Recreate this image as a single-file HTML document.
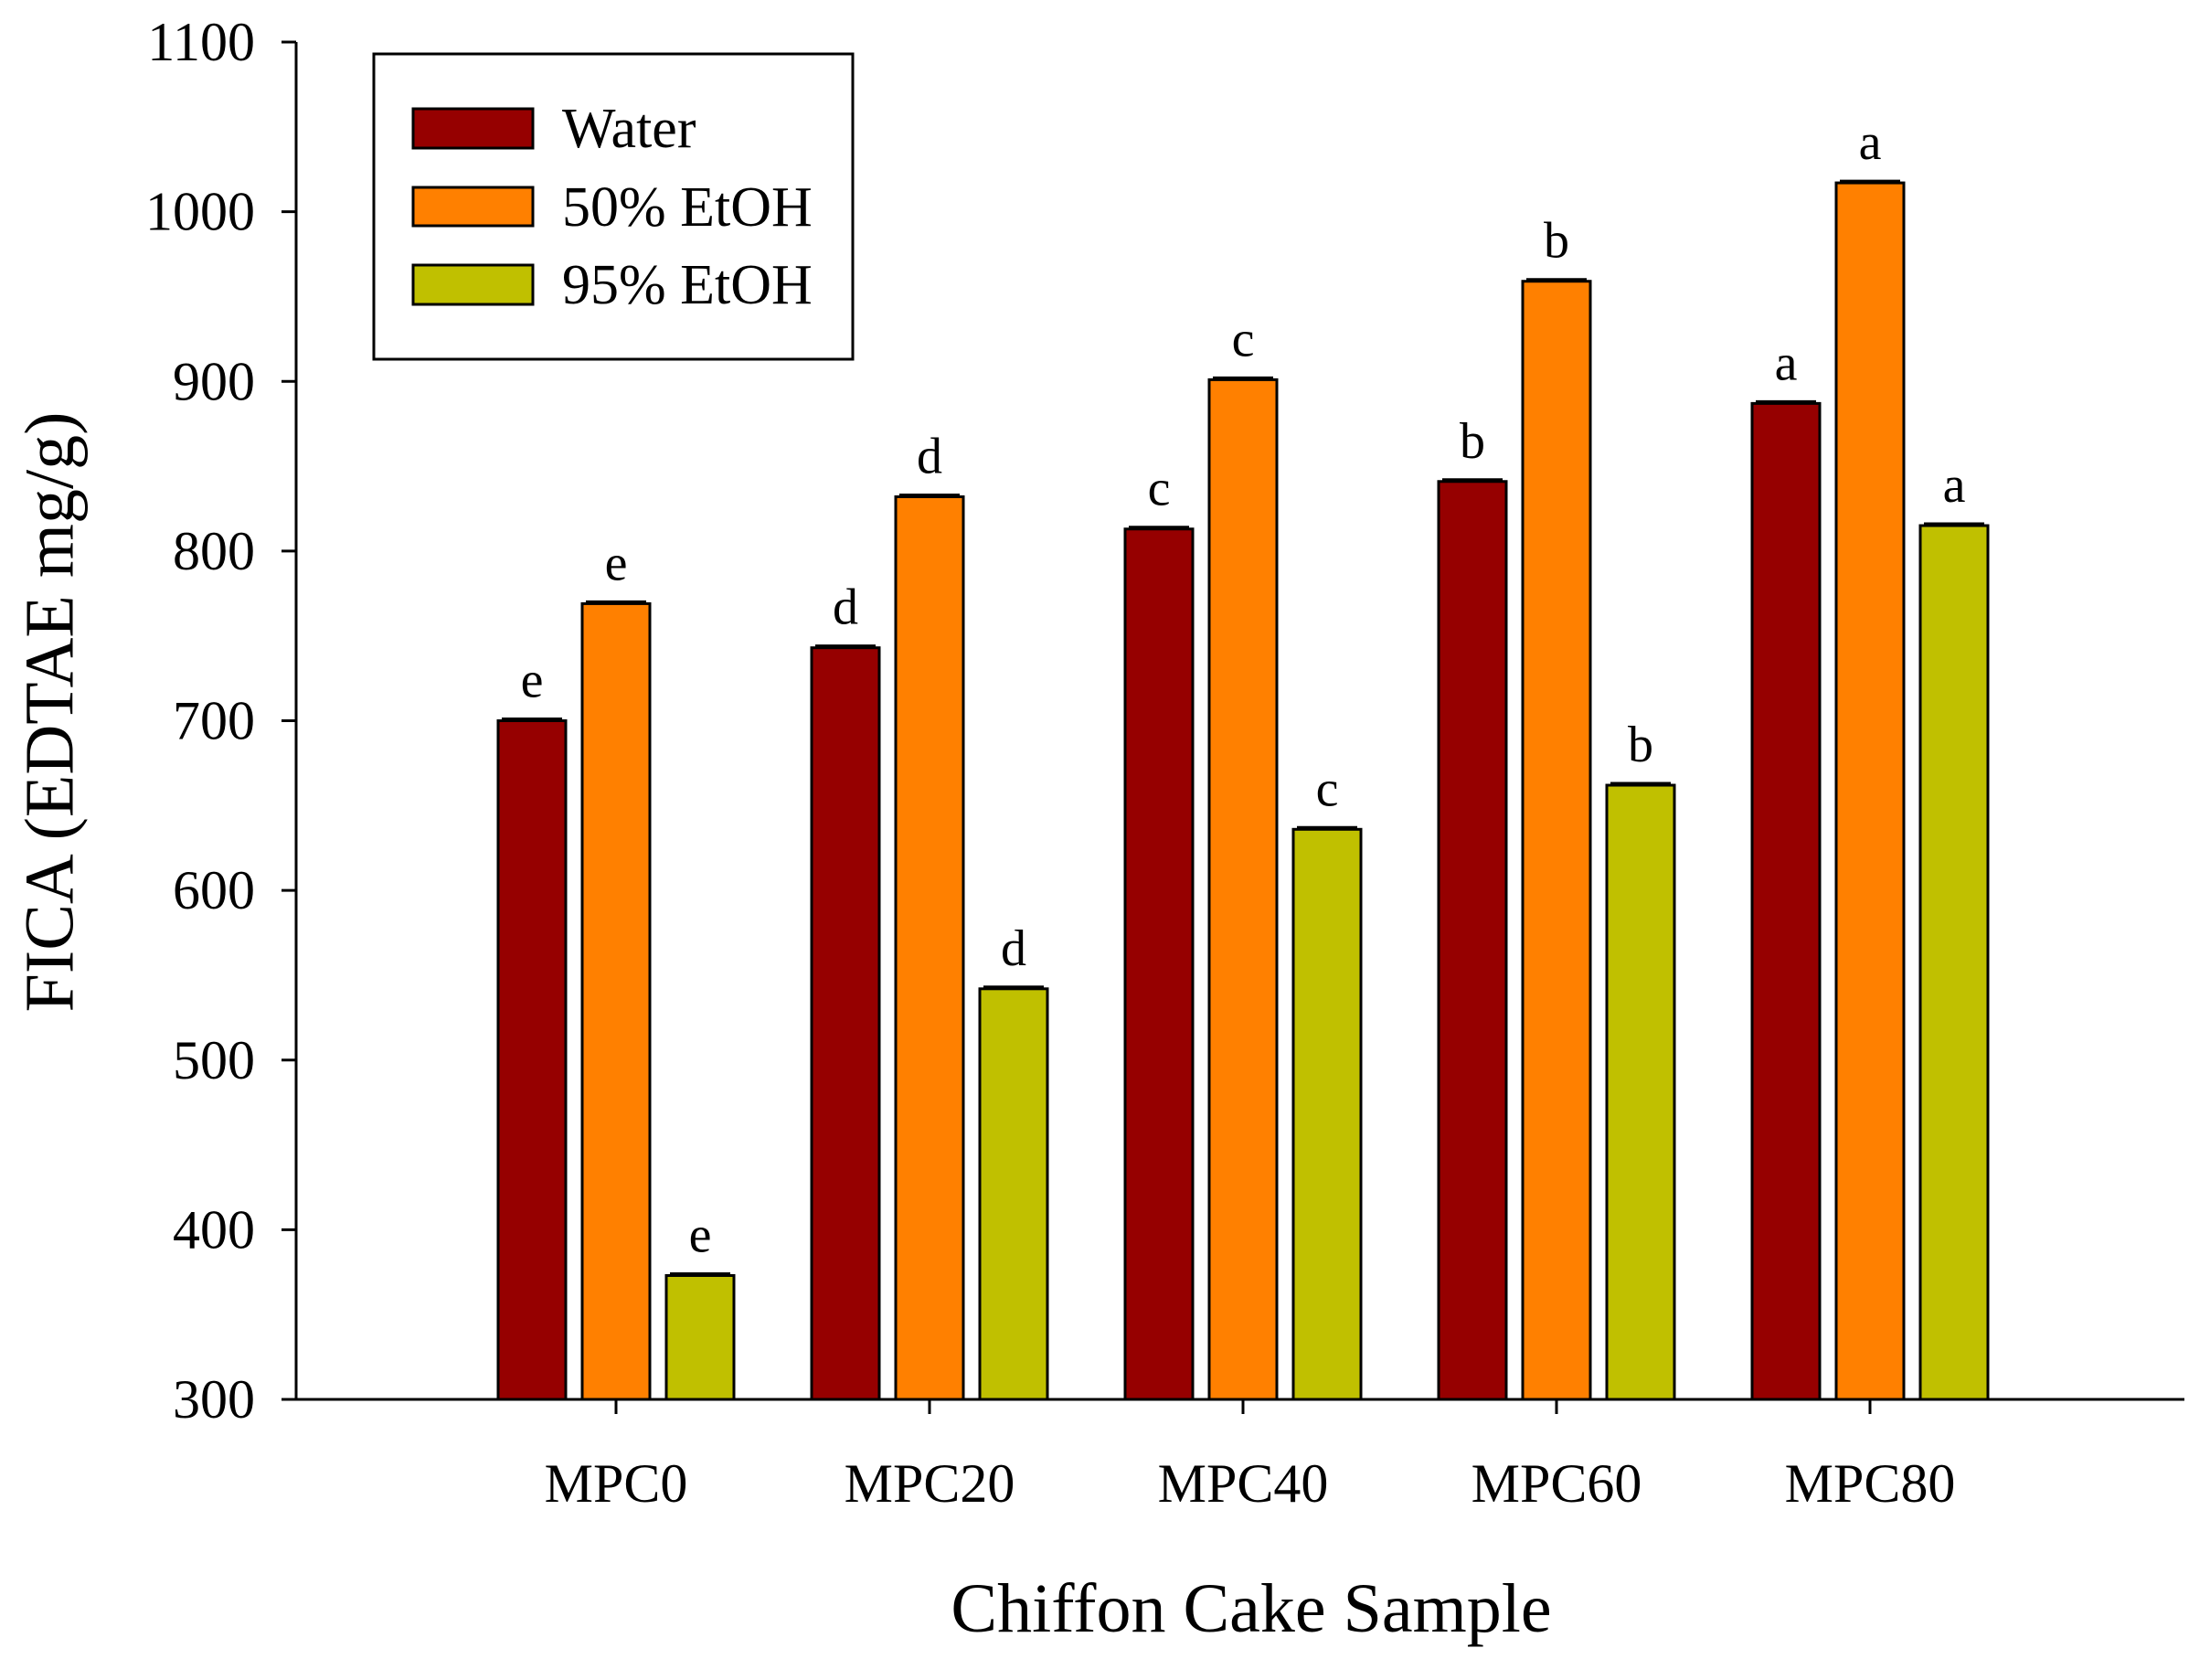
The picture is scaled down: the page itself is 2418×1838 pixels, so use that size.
<!DOCTYPE html>
<html><head><meta charset="utf-8"><style>
html,body{margin:0;padding:0;background:#fff;}
svg{display:block;font-family:"Liberation Serif",serif;}
</style></head><body>
<svg id="chart" width="2418" height="1838" viewBox="0 0 2418 1838">
<g id="bars"></g>
<g id="axes"></g>
<text x="62" y="779" font-size="76" text-anchor="middle" transform="rotate(-90 62 779)" dominant-baseline="middle">FICA (EDTAE mg/g)</text>
<text x="1369" y="1785" font-size="76" text-anchor="middle">Chiffon Cake Sample</text>
<g>
<rect x="409" y="59" width="524" height="334" fill="#fff" stroke="#000" stroke-width="3"/>
<rect x="452" y="119" width="131" height="43" fill="#960000" stroke="#000" stroke-width="3"/>
<text x="615" y="161" font-size="62">Water</text>
<rect x="452" y="205" width="131" height="42" fill="#ff8000" stroke="#000" stroke-width="3"/>
<text x="615" y="247" font-size="62">50% EtOH</text>
<rect x="452" y="290" width="131" height="43" fill="#c0c000" stroke="#000" stroke-width="3"/>
<text x="615" y="332" font-size="62">95% EtOH</text>
</g>
</svg>
<script>
const categories=["MPC0","MPC20","MPC40","MPC60","MPC80"];
const water=[700,743,813,841,887];
const etoh50=[769,832,901,959,1017];
const etoh95=[373,542,636,662,815];
const lettersWater=["e","d","c","b","a"];
const letters50=["e","d","c","b","a"];
const letters95=["e","d","c","b","a"];
const yTicks=[300,400,500,600,700,800,900,1000,1100];
const ns="http://www.w3.org/2000/svg";
const x0=324,x1=2390,yTop=46,yBot=1531,ymin=300,ymax=1100;
const y=v=>yBot-(v-ymin)/(ymax-ymin)*(yBot-yTop);
const cx=i=>674+i*343;
function mk(tag,attrs,parent){const e=document.createElementNS(ns,tag);for(const k in attrs)e.setAttribute(k,attrs[k]);parent.appendChild(e);return e;}
const bars=document.getElementById('bars'),axes=document.getElementById('axes');
const series=[{v:water,l:lettersWater,c:"#960000",n:"water"},{v:etoh50,l:letters50,c:"#ff8000",n:"50-etoh"},{v:etoh95,l:letters95,c:"#c0c000",n:"95-etoh"}];
const bw=74,sp=92;
series.forEach((s,si)=>{
 s.v.forEach((v,i)=>{
  const xc=cx(i)+(si-1)*sp;
  const r=mk('rect',{x:xc-bw/2,y:y(v),width:bw,height:yBot-y(v),fill:s.c,stroke:"#000","stroke-width":3},bars);
  
  
  const eb=mk('line',{x1:xc-bw/2+4,x2:xc+bw/2-4,y1:y(v)-2,y2:y(v)-2,stroke:"#000","stroke-width":3},bars);
  
  
  const t=mk('text',{x:xc,y:y(v)-26,"font-size":56,"text-anchor":"middle"},bars);
  t.textContent=s.l[i];
  
  
 });
});
mk('line',{x1:x0,x2:x0,y1:yTop,y2:yBot,stroke:"#000","stroke-width":3},axes);
mk('line',{x1:x0,x2:x1,y1:yBot,y2:yBot,stroke:"#000","stroke-width":3},axes);
yTicks.forEach(v=>{
 mk('line',{x1:x0-16,x2:x0,y1:y(v),y2:y(v),stroke:"#000","stroke-width":3},axes);
 const t=mk('text',{x:x0-45,y:y(v)+20,"font-size":60,"text-anchor":"end"},axes);
 t.textContent=v;
 
 
});
categories.forEach((c,i)=>{
 mk('line',{x1:cx(i),x2:cx(i),y1:yBot,y2:yBot+16,stroke:"#000","stroke-width":3},axes);
 const t=mk('text',{x:cx(i),y:1643,"font-size":60,"text-anchor":"middle"},axes);
 t.textContent=c;
 
 
});
</script>
</body></html>
